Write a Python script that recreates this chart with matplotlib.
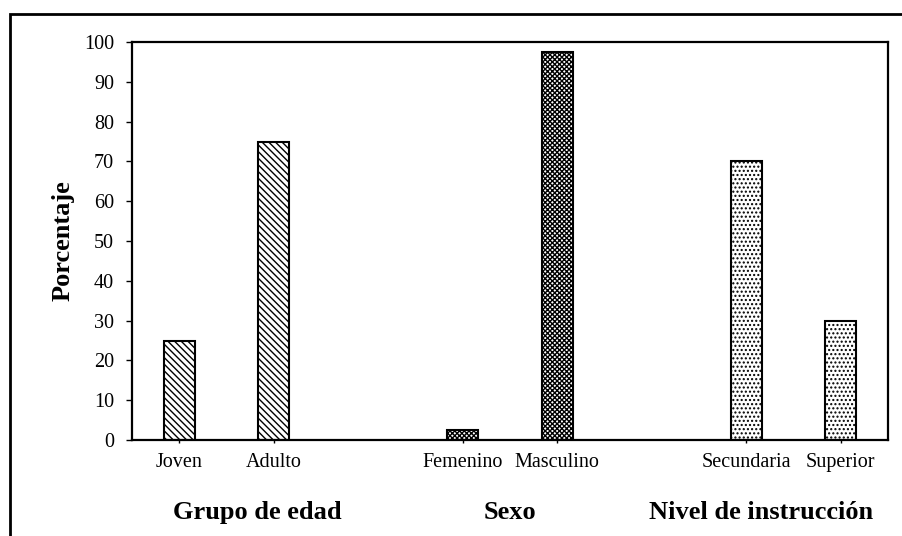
import matplotlib.pyplot as plt
from matplotlib.patches import Rectangle

# Datos (porcentaje)
categorias = ['Joven', 'Adulto', 'Femenino', 'Masculino', 'Secundaria', 'Superior']
posiciones = [0, 1, 3, 4, 6, 7]
valores = [25, 75, 2.5, 97.5, 70, 30]
grupos = ['Grupo de edad', 'Sexo', 'Nivel de instrucción']
grupo_x = [0.83, 3.5, 6.16]
tramas = ['\\' * 5, '\\' * 5, 'x' * 7, 'x' * 7, '....', '....']

plt.rcParams['font.family'] = ['Liberation Serif', 'DejaVu Serif']
plt.rcParams['hatch.linewidth'] = 1.0

fig = plt.figure(figsize=(9.02, 5.36), dpi=100)
ax = fig.add_axes([132/902, 96/536, 756/902, 398/536])

for x, v, h in zip(posiciones, valores, tramas):
    ax.bar(x, v, width=0.33, color='white', edgecolor='black', hatch=h, linewidth=1.5)

ax.set_xlim(-0.5, 7.5)
ax.set_ylim(0, 100)
ax.set_yticks(range(0, 101, 10))
ax.set_xticks(posiciones, categorias)
ax.tick_params(axis='y', direction='out', length=4, width=1, pad=9, labelsize=14.5)
ax.tick_params(axis='x', direction='out', length=2.5, width=1, pad=7, labelsize=14.5)
for s in ax.spines.values():
    s.set_linewidth(1.6)

ax.set_ylabel('Porcentaje', fontsize=19, fontweight='bold')
ax.yaxis.set_label_coords(-0.0755, 0.5)

for gx, g in zip(grupo_x, grupos):
    ax.text(gx, -0.181, g, transform=ax.get_xaxis_transform(), ha='center', va='center',
            fontsize=19, fontweight='bold')

# Marco exterior
fig.add_artist(Rectangle((10/902, -0.1), 1.2, (522/536) + 0.1, transform=fig.transFigure,
                         fill=False, edgecolor='black', linewidth=2))

fig.savefig('out.png', dpi=100)
